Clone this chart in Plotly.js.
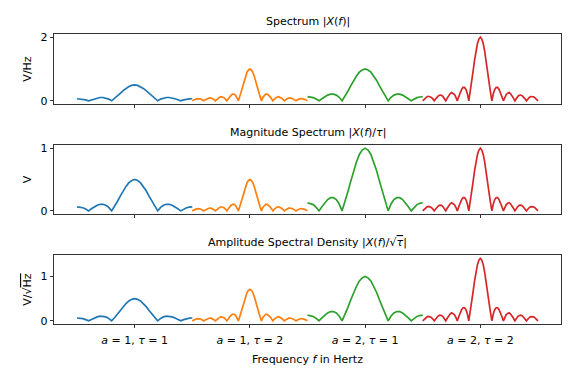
<!DOCTYPE html>
<html>
<head>
<meta charset="utf-8">
<script src="https://cdn.plot.ly/plotly-3.0.1.min.js"></script>
<style>html,body{margin:0;padding:0;background:#fff;}#chart{width:576px;height:384px;}</style>
</head>
<body>
<div id="chart"></div>
<script>
// Categories (one segment per signal), centred at these x positions on the frequency axis
var categories = ['<i>a</i> = 1, <i>τ</i> = 1', '<i>a</i> = 1, <i>τ</i> = 2', '<i>a</i> = 2, <i>τ</i> = 1', '<i>a</i> = 2, <i>τ</i> = 2'];
var categoryCenters = [0, 5, 10, 15];
var seriesColors = ['#1f77b4', '#ff7f0e', '#2ca02c', '#d62728'];
var seriesTau = [1, 2, 1, 2];

// Normalised spectrum shape for tau = 1 (f from -2.5 to 2.5, step 0.125)
var shapeTau1 = [0.13, 0.12, 0.10, 0.057, 0.00, 0.065, 0.13, 0.18, 0.21, 0.21, 0.18, 0.11, 0.00, 0.14, 0.30, 0.47, 0.64, 0.78, 0.90, 0.97,
  1.00, 0.97, 0.90, 0.78, 0.64, 0.47, 0.30, 0.14, 0.00, 0.11, 0.18, 0.21, 0.21, 0.18, 0.13, 0.065, 0.00, 0.057, 0.10, 0.12, 0.13];
// Normalised spectrum shape for tau = 2 (f from -2.5 to 2.5, step 0.0625)
var shapeTau2 = [0.00, 0.025, 0.047, 0.064, 0.071, 0.067, 0.053, 0.030, 0.00, 0.031, 0.060, 0.081, 0.091, 0.087, 0.069, 0.039,
  0.00, 0.042, 0.082, 0.11, 0.13, 0.12, 0.10, 0.057, 0.00, 0.065, 0.13, 0.18, 0.21, 0.21, 0.18, 0.11, 0.00, 0.14, 0.30, 0.47, 0.64, 0.78, 0.90, 0.97,
  1.00, 0.97, 0.90, 0.78, 0.64, 0.47, 0.30, 0.14, 0.00, 0.11, 0.18, 0.21, 0.21, 0.18, 0.13, 0.065,
  0.00, 0.057, 0.10, 0.12, 0.13, 0.11, 0.082, 0.042, 0.00, 0.039, 0.069, 0.087, 0.091, 0.081, 0.060, 0.031,
  0.00, 0.030, 0.053, 0.067, 0.071, 0.064, 0.047, 0.025, 0.00];

// Peak heights per series in each panel
var peaksSpectrum = [0.5, 1.0, 1.0, 2.0];
var peaksMagnitude = [0.5, 0.5, 1.0, 1.0];
var peaksASD = [0.5, 0.71, 1.0, 1.41];

var panelTitles = ['Spectrum |<i>X</i>(<i>f</i>)|', 'Magnitude Spectrum |<i>X</i>(<i>f</i>)/<i>τ</i>|', 'Amplitude Spectral Density |<i>X</i>(<i>f</i>)/√<span style="text-decoration:overline"><i>τ</i></span>|'];
var panelYLabels = ['V/Hz', 'V', 'V/√<span style="text-decoration:overline">Hz</span>'];
var panelYTicks = [[0, 2], [0, 1], [0, 1]];
var xLabel = 'Frequency <i>f</i> in Hertz';

function freqGrid(n) {
  var out = [];
  for (var i = 0; i < n; i++) out.push(-2.5 + 5 * i / (n - 1));
  return out;
}

var panelPeaks = [peaksSpectrum, peaksMagnitude, peaksASD];
var traces = [];
for (var p = 0; p < 3; p++) {
  for (var s = 0; s < 4; s++) {
    var shape = seriesTau[s] === 1 ? shapeTau1 : shapeTau2;
    var f = freqGrid(shape.length);
    traces.push({
      type: 'scatter', mode: 'lines',
      x: f.map(function (v) { return v + categoryCenters[s]; }),
      y: shape.map(function (v) { return v * panelPeaks[p][s]; }),
      line: {color: seriesColors[s], width: 1.7},
      xaxis: p === 0 ? 'x' : 'x' + (p + 1),
      yaxis: p === 0 ? 'y' : 'y' + (p + 1),
      showlegend: false, hoverinfo: 'skip'
    });
  }
}

var font = {family: 'DejaVu Sans, sans-serif', size: 11, color: '#000'};
var domains = [[0.7586, 1], [0.3793, 0.6172], [0, 0.2379]];
var yranges = [[-0.1, 2.1], [-0.05, 1.05], [-0.0707, 1.4849]];

var layout = {
  width: 576, height: 384,
  margin: {l: 54, r: 15, t: 34, b: 60},
  paper_bgcolor: '#fff', plot_bgcolor: '#fff',
  font: font,
  showlegend: false,
  annotations: []
};
for (var p = 0; p < 3; p++) {
  var xa = {
    range: [-3.5, 18.5], domain: [0, 1],
    anchor: p === 0 ? 'y' : 'y' + (p + 1),
    tickmode: 'array', tickvals: categoryCenters, ticktext: categories,
    showticklabels: p === 2,
    ticks: 'outside', ticklen: 3.5, tickwidth: 0.8, tickcolor: '#000',
    ticklabelstandoff: 2,
    showline: true, mirror: true, linecolor: '#000', linewidth: 0.8,
    showgrid: false, zeroline: false,
    tickfont: {family: 'DejaVu Sans, sans-serif', size: 11, color: '#000'}
  };
  if (p === 2) xa.title = {text: xLabel, font: {family: 'DejaVu Sans, sans-serif', size: 11, color: '#000'}, standoff: 9};
  var ya = {
    range: yranges[p], domain: domains[p],
    anchor: p === 0 ? 'x' : 'x' + (p + 1),
    tickmode: 'array', tickvals: panelYTicks[p],
    ticks: 'outside', ticklen: 3.5, tickwidth: 0.8, tickcolor: '#000',
    showline: true, mirror: true, linecolor: '#000', linewidth: 0.8,
    showgrid: false, zeroline: false,
    tickfont: {family: 'DejaVu Sans, sans-serif', size: 11, color: '#000'},
    title: {text: panelYLabels[p], font: {family: 'DejaVu Sans, sans-serif', size: 11, color: '#000'}, standoff: 6}
  };
  layout[p === 0 ? 'xaxis' : 'xaxis' + (p + 1)] = xa;
  layout[p === 0 ? 'yaxis' : 'yaxis' + (p + 1)] = ya;
  layout.annotations.push({
    text: panelTitles[p], xref: 'paper', yref: 'paper', x: 0.5, y: domains[p][1],
    xanchor: 'center', yanchor: 'bottom', yshift: 4, showarrow: false,
    font: {family: 'DejaVu Sans, sans-serif', size: 11, color: '#000'}
  });
}

Plotly.newPlot('chart', traces, layout, {staticPlot: true, displayModeBar: false});
</script>
</body>
</html>
